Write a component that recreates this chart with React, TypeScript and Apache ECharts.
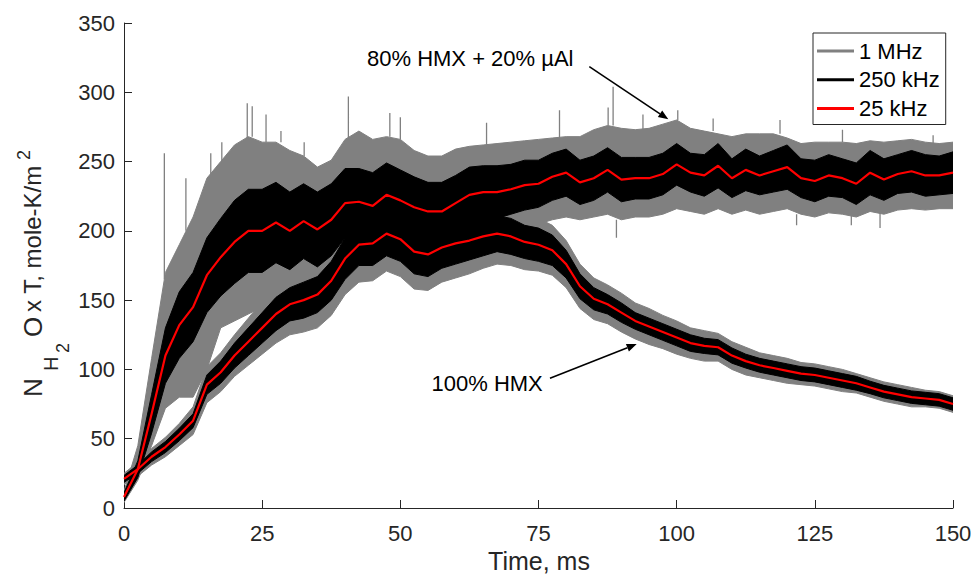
import { useEffect, useRef } from "react";
import * as echarts from "echarts";

// Time grid, ms
const time = [
  0, 2.5, 5, 7.5, 10, 12.5, 15, 17.5, 20, 22.5, 25, 27.5, 30, 32.5, 35, 37.5, 40, 42.5, 45, 47.5,
  50, 52.5, 55, 57.5, 60, 62.5, 65, 67.5, 70, 72.5, 75, 77.5, 80, 82.5, 85, 87.5, 90, 92.5, 95, 97.5,
  100, 102.5, 105, 107.5, 110, 112.5, 115, 117.5, 120, 122.5, 125, 127.5, 130, 132.5, 135, 137.5, 140, 142.5, 145, 147.5,
  150,
];

// 80% HMX + 20% µAl
const alRed25k = [
  8, 28, 68, 110, 132, 145, 168, 181, 192, 200, 200, 206, 200, 207, 201, 208, 220, 221, 218, 226,
  222, 217, 214, 214, 220, 226, 228, 228, 230, 233, 234, 239, 242, 235, 238, 244, 237, 238, 238, 241,
  248, 242, 240, 247, 238, 244, 240, 243, 246, 238, 236, 240, 238, 234, 242, 237, 241, 243, 240, 240,
  242,
];
const alBlack250kHalf = [
  3, 6, 14, 20, 24, 25, 27, 28, 30, 30, 30, 29, 28, 27, 27, 26, 25, 24, 24, 23,
  22, 22, 21, 21, 20, 20, 19, 19, 18, 18, 17, 17, 17, 16, 16, 16, 16, 15, 15, 15,
  15, 14, 15, 16, 14, 15, 14, 15, 16, 14, 15, 15, 14, 15, 16, 15, 14, 15, 15, 14,
  15,
];
const alGray1MTop = [
  12, 45, 108, 170, 190, 210, 238, 250, 262, 268, 264, 264, 258, 254, 246, 251, 266, 272, 266, 268,
  266, 258, 254, 254, 259, 261, 262, 263, 264, 265, 266, 267, 268, 268, 273, 276, 274, 273, 274, 277,
  280, 274, 272, 270, 268, 270, 270, 270, 267, 263, 264, 264, 264, 263, 265, 264, 265, 266, 264, 263,
  264,
];
const alGray1MBottom = [
  4, 20, 45, 72, 80, 80, 100, 130, 135, 140, 145, 150, 155, 160, 160, 165, 175, 178, 178, 184,
  182, 178, 176, 178, 184, 190, 193, 195, 198, 202, 205, 208, 210, 208, 210, 212, 208, 210, 210, 212,
  216, 214, 212, 216, 212, 215, 212, 214, 216, 212, 210, 213, 212, 210, 214, 212, 215, 216, 215, 216,
  216,
];
// isolated 1 MHz excursions (time, bulk level, extreme)
const alSpikeT = [7.3, 11.2, 15.7, 17.7, 22.3, 23.2, 25.7, 28.4, 32.6, 40.6, 48.1, 50.0, 65.6, 78.8, 87.6, 88.5, 93.9, 100.2, 106.6, 118.7, 130, 146.4, 89.1, 121.7, 131.6, 136.8];
const alSpikeBase = [165, 200, 240, 250, 265, 268, 264, 264, 254, 266, 268, 266, 262, 267, 276, 276, 273, 280, 272, 270, 264, 263, 208, 212, 212, 213];
const alSpikePeak = [256, 238, 256, 264, 292, 290, 284, 272, 264, 297, 285, 282, 278, 287, 289, 304, 284, 287, 281, 280, 273, 269, 195, 204, 204, 202];

// 100% HMX
const hmxRed25k = [
  21, 28, 37, 44, 53, 63, 89, 98, 110, 120, 130, 140, 147, 150, 154, 164, 180, 190, 191, 198,
  194, 185, 183, 188, 191, 193, 196, 198, 196, 192, 190, 186, 176, 160, 151, 147, 141, 135, 131, 127,
  123, 119, 117, 116, 110, 106, 103, 101, 99, 97, 96, 94, 92, 90, 87, 84, 82, 80, 79, 78,
  75,
];
const hmxBlack250kHalf = [
  2.5, 3, 3.5, 4, 4.5, 5, 7, 8, 9, 10, 11, 12, 12, 13, 13, 14, 15, 15, 16, 16,
  16, 16, 16, 15, 15, 14, 14, 13, 13, 12, 12, 11, 10, 9, 8, 7, 7, 6, 6, 6,
  6, 6, 5.5, 5.5, 5.5, 5, 5, 5, 5, 5, 5, 5, 5, 5, 4.5, 4.5, 4.5, 4.5, 4.5, 4.5,
  4.5,
];
const hmxGray1MHalf = [
  4, 5, 6, 7, 8, 10, 13, 14, 15, 17, 19, 21, 22, 23, 24, 25, 26, 27, 27, 27,
  27, 27, 26, 25, 25, 24, 23, 22, 21, 20, 19, 18, 17, 16, 15, 14, 14, 13, 13, 12,
  12, 11, 11, 10, 10, 10, 9, 9, 9, 8, 8, 8, 8, 7, 7, 7, 7, 7, 6, 6,
  6,
];

const legendNames = ["1 MHz", "250 kHz", "25 kHz"];
const xTicks = { min: 0, max: 150, interval: 25 };
const yTicks = { min: 0, max: 350, interval: 50 };

const FONT = "'Liberation Sans', Arial, Helvetica, sans-serif";
const GRAY = "#808080";
const BLACK = "#000000";
const RED = "#ff0000";
const AXIS = "#262626";

// band between a lower and an upper envelope, drawn through the cartesian scale
function band(name: string, lower: number[], upper: number[], color: string) {
  return {
    type: "custom",
    name,
    coordinateSystem: "cartesian2d",
    data: [[time[0], lower[0]]],
    encode: { x: 0, y: 1 },
    silent: true,
    clip: true,
    itemStyle: { color },
    renderItem: (_params: any, api: any) => {
      const pts: number[][] = [];
      for (let i = 0; i < time.length; i++) pts.push(api.coord([time[i], upper[i]]));
      for (let i = time.length - 1; i >= 0; i--) pts.push(api.coord([time[i], lower[i]]));
      return {
        type: "polygon",
        shape: { points: pts },
        style: { fill: color, stroke: color, lineWidth: 1 },
      };
    },
  };
}

export default function App() {
  const ref = useRef<HTMLDivElement>(null);
  useEffect(() => {
    const chart = echarts.init(ref.current!, null, { renderer: "svg" });

    const alBlackLo = alRed25k.map((v, i) => v - alBlack250kHalf[i]);
    const alBlackHi = alRed25k.map((v, i) => v + alBlack250kHalf[i]);
    const hmxBlackLo = hmxRed25k.map((v, i) => v - hmxBlack250kHalf[i]);
    const hmxBlackHi = hmxRed25k.map((v, i) => v + hmxBlack250kHalf[i]);
    const hmxGrayLo = hmxRed25k.map((v, i) => v - hmxGray1MHalf[i]);
    const hmxGrayHi = hmxRed25k.map((v, i) => v + hmxGray1MHalf[i]);

    const spikeData: any[] = [];
    alSpikeT.forEach((t, i) => {
      spikeData.push([t, alSpikeBase[i]], [t, alSpikePeak[i]], [t, "-"]);
    });

    const series: any[] = [
      band(legendNames[0], alGray1MBottom, alGray1MTop, GRAY),
      band(legendNames[0], hmxGrayLo, hmxGrayHi, GRAY),
      {
        type: "line",
        name: "spikes",
        data: spikeData,
        symbol: "none",
        connectNulls: false,
        lineStyle: { width: 1.3, color: GRAY },
        silent: true,
      },
      band(legendNames[1], alBlackLo, alBlackHi, BLACK),
      band(legendNames[1], hmxBlackLo, hmxBlackHi, BLACK),
      {
        type: "line",
        name: legendNames[2],
        data: time.map((t, i) => [t, alRed25k[i]]),
        symbol: "none",
        lineStyle: { width: 2.2, color: RED },
        itemStyle: { color: RED },
        silent: true,
      },
      {
        type: "line",
        name: legendNames[2],
        data: time.map((t, i) => [t, hmxRed25k[i]]),
        symbol: "none",
        lineStyle: { width: 2.2, color: RED },
        itemStyle: { color: RED },
        silent: true,
      },
    ];

    const txt = (text: string, x: number, y: number, fontSize: number, extra: any = {}) => ({
      type: "text",
      x,
      y,
      style: {
        text,
        fontSize,
        fontFamily: FONT,
        fill: AXIS,
        align: "left",
        verticalAlign: "middle",
        ...extra,
      },
    });

    chart.setOption({
      animation: false,
      backgroundColor: "#ffffff",
      grid: { left: 124, right: 22, top: 23, bottom: 69, containLabel: false },
      xAxis: {
        type: "value",
        ...xTicks,
        axisLine: { show: true, lineStyle: { color: AXIS, width: 1 } },
        axisTick: { show: true, inside: true, length: 8, lineStyle: { color: AXIS } },
        axisLabel: { color: AXIS, fontSize: 22, fontFamily: FONT, margin: 14 },
        splitLine: { show: false },
      },
      yAxis: {
        type: "value",
        ...yTicks,
        axisLine: { show: true, lineStyle: { color: AXIS, width: 1 } },
        axisTick: { show: true, inside: true, length: 8, lineStyle: { color: AXIS } },
        axisLabel: { color: AXIS, fontSize: 22, fontFamily: FONT, margin: 9 },
        splitLine: { show: false },
      },
      legend: {
        orient: "vertical",
        left: 813,
        top: 33,
        padding: [7, 6, 5, 4],
        itemWidth: 37,
        itemHeight: 3,
        itemGap: 6.75,
        borderColor: AXIS,
        borderWidth: 1,
        backgroundColor: "#ffffff",
        selectedMode: false,
        textStyle: { fontSize: 22, color: "#000", fontFamily: FONT, lineHeight: 22 },
        data: [
          { name: legendNames[0], icon: "rect", itemStyle: { color: GRAY } },
          { name: legendNames[1], icon: "rect", itemStyle: { color: BLACK } },
          { name: legendNames[2], icon: "rect", itemStyle: { color: RED } },
        ],
      },
      graphic: [
        {
          type: "group",
          x: 32.5,
          y: 397,
          rotation: Math.PI / 2,
          children: [
            txt("N", 0, 0, 26),
            txt("H", 26, 18, 20),
            txt("2", 44, 30, 18),
            txt("O", 60, 0, 26),
            txt("x T, mole-K/m", 85, 0, 24),
            txt("2", 237, -9, 18),
          ],
        },
        txt("Time, ms", 539, 561, 25, { align: "center" }),
        txt("80% HMX + 20% µAl", 367, 58.5, 22, { fill: "#000" }),
        txt("100% HMX", 431.5, 383.5, 22, { fill: "#000" }),
        {
          type: "line",
          shape: { x1: 589.3, y1: 66.7, x2: 660, y2: 113.8 },
          style: { stroke: "#000", lineWidth: 1.6 },
        },
        {
          type: "polygon",
          shape: { points: [[668.3, 119.3], [657.8, 117.1], [662.2, 110.5]] },
          style: { fill: "#000" },
        },
        {
          type: "line",
          shape: { x1: 550, y1: 378.3, x2: 627.4, y2: 347.7 },
          style: { stroke: "#000", lineWidth: 1.6 },
        },
        {
          type: "polygon",
          shape: { points: [[636.7, 344], [628.9, 351.4], [625.9, 344.0]] },
          style: { fill: "#000" },
        },
      ],
      series,
    });
    return () => chart.dispose();
  }, []);
  return (
    <div
      ref={ref}
      style={{ position: "absolute", left: 0, top: 0, width: 975, height: 577, background: "#fff" }}
    />
  );
}
